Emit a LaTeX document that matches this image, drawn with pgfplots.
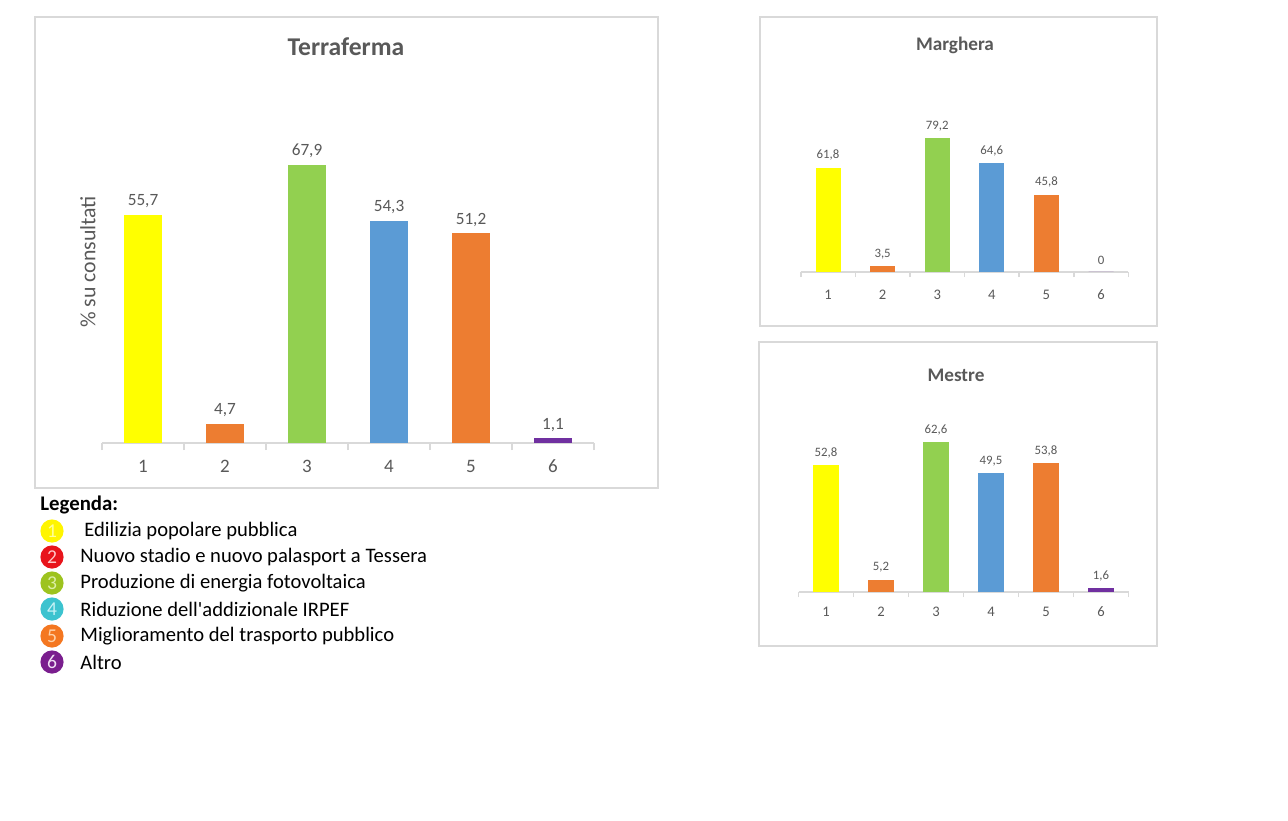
\documentclass[border=0pt]{standalone}
\usepackage{pgfplots}
\pgfplotsset{compat=1.18}
\usepackage{fontspec}
\setmainfont{Carlito}
\definecolor{cyel}{HTML}{FFFF00}
\definecolor{corg}{HTML}{ED7D31}
\definecolor{cgrn}{HTML}{92D050}
\definecolor{cblu}{HTML}{5B9BD5}
\definecolor{cpur}{HTML}{7030A0}
\definecolor{txtg}{HTML}{595959}
\definecolor{axg}{HTML}{D9D9D9}
\definecolor{frg}{HTML}{D9D9D9}
\definecolor{l1}{HTML}{FFF500}\definecolor{n1}{HTML}{FFFF99}
\definecolor{l2}{HTML}{E8141B}\definecolor{n2}{HTML}{FFC8C8}
\definecolor{l3}{HTML}{9DC31F}\definecolor{n3}{HTML}{DDEFA8}
\definecolor{l4}{HTML}{3CC3CF}\definecolor{n4}{HTML}{C8F2F6}
\definecolor{l5}{HTML}{F47721}\definecolor{n5}{HTML}{FFD2A8}
\definecolor{l6}{HTML}{7A1E8E}\definecolor{n6}{HTML}{F0E0F4}
\pgfplotsset{
  b/.style={fill=#1, draw=none, bar shift=0pt},
  panel/.style={
    anchor=south west, xmin=0.5, xmax=6.5, ymin=0,
    ybar, clip=false,
    /pgf/number format/assume math mode=true,
    axis x line=bottom, axis y line=none,
    x axis line style={-, draw=axg, line width=1pt},
    xtick={1,2,3,4,5,6},
    major tick length=0pt,
    tick align=outside,
    extra x ticks={0.5,1.5,2.5,3.5,4.5,5.5,6.5},
    extra x tick labels={},
    extra x tick style={xticklabel={}, major tick length=#1, tick style={draw=axg, line width=0.8pt}},
    xticklabel style={text=txtg},
    nodes near coords, point meta=explicit symbolic,
    every node near coord/.append style={text=txtg},
  }
}
\begin{document}
\begin{tikzpicture}
\useasboundingbox (0,0) rectangle (644pt,410pt);
\fill[white] (0,0) rectangle (644pt,410pt);
% frames
\draw[frg, line width=1pt] (17.5pt,166pt) rectangle (329pt,401.5pt);
\draw[frg, line width=1pt] (380pt,247pt) rectangle (578.5pt,401.5pt);
\draw[frg, line width=1pt] (379.5pt,87pt) rectangle (578.5pt,239pt);
% titles
\node[text=txtg, font=\fontsize{12.8}{15}\selectfont\bfseries] at (173pt,386.5pt) {Terraferma};
\node[text=txtg, font=\fontsize{9.6}{11}\selectfont\bfseries] at (477.5pt,387.5pt) {Marghera};
\node[text=txtg, font=\fontsize{9.6}{11}\selectfont\bfseries] at (478pt,222.5pt) {Mestre};
\node[text=txtg, font=\fontsize{10.9}{12}\selectfont, rotate=90] at (44pt,279pt) {\% su consultati};

% Terraferma
\begin{axis}[panel=3.5pt, at={(51pt,188.5pt)}, x=41pt, y=2.0465pt, ymax=75,
  bar width=19pt,
  xticklabel style={font=\fontsize{9.5}{10}\selectfont, yshift=-5pt},
  every node near coord/.append style={font=\fontsize{8.6}{10}\selectfont}]
\addplot[b=cyel] coordinates {(1,55.7) [55,7]};
\addplot[b=corg] coordinates {(2,4.7) [4,7]};
\addplot[b=cgrn] coordinates {(3,67.9) [67,9]};
\addplot[b=cblu] coordinates {(4,54.3) [54,3]};
\addplot[b=corg] coordinates {(5,51.2) [51,2]};
\addplot[b=cpur] coordinates {(6,1.1) [1,1]};
\end{axis}

% Marghera
\begin{axis}[panel=2.5pt, at={(400.35pt,274pt)}, x=27.3pt, y=0.845pt, ymax=85,
  bar width=12.5pt,
  xticklabel style={font=\fontsize{7.3}{8}\selectfont, yshift=-5.5pt},
  every node near coord/.append style={font=\fontsize{6.4}{8}\selectfont}]
\addplot[b=cyel] coordinates {(1,61.8) [61,8]};
\addplot[b=corg] coordinates {(2,3.5) [3,5]};
\addplot[b=cgrn] coordinates {(3,79.2) [79,2]};
\addplot[b=cblu] coordinates {(4,64.6) [64,6]};
\addplot[b=corg] coordinates {(5,45.8) [45,8]};
\addplot[b=cpur] coordinates {(6,0) [0]};
\end{axis}

% Mestre
\begin{axis}[panel=2.5pt, at={(399.25pt,114pt)}, x=27.5pt, y=1.2pt, ymax=70,
  bar width=13pt,
  xticklabel style={font=\fontsize{7.3}{8}\selectfont, yshift=-4pt},
  every node near coord/.append style={font=\fontsize{6.4}{8}\selectfont}]
\addplot[b=cyel] coordinates {(1,52.8) [52,8]};
\addplot[b=corg] coordinates {(2,5.2) [5,2]};
\addplot[b=cgrn] coordinates {(3,62.6) [62,6]};
\addplot[b=cblu] coordinates {(4,49.5) [49,5]};
\addplot[b=corg] coordinates {(5,53.8) [53,8]};
\addplot[b=cpur] coordinates {(6,1.6) [1,6]};
\end{axis}

% legend
\node[anchor=west, font=\fontsize{10.4}{12}\selectfont\bfseries, inner sep=0pt] at (20pt,157.5pt) {Legenda:};
\foreach \i/\yy/\txt/\dx in {1/144.5/{Edilizia popolare pubblica}/42,
  2/131.5/{Nuovo stadio e nuovo palasport a Tessera}/40,
  3/118.5/{Produzione di energia fotovoltaica}/40,
  4/105.5/{Riduzione dell\textquotesingle addizionale IRPEF}/40,
  5/92/{Miglioramento del trasporto pubblico}/40,
  6/79/{Altro}/40}{
  \fill[l\i] (26pt,\yy pt) circle (5.8pt);
  \node[text=n\i, font=\fontsize{9.8}{10}\selectfont, inner sep=0pt] at (26pt,\yy pt) {\i};
  \node[anchor=west, font=\fontsize{10.3}{12}\selectfont, inner sep=0pt] at (\dx pt,\yy pt) {\txt};
}
\end{tikzpicture}
\end{document}
